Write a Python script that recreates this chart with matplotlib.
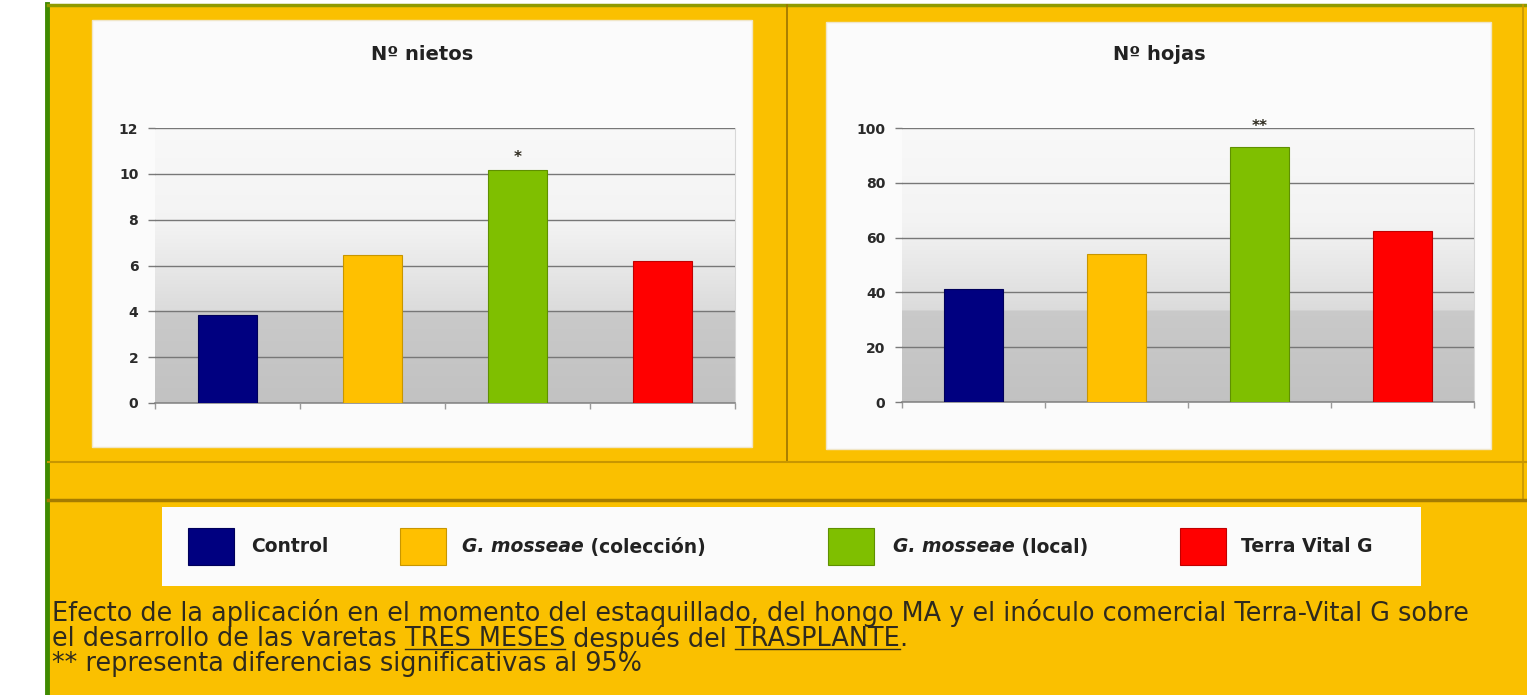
import numpy as np
import matplotlib.pyplot as plt
import matplotlib.patches as patches
from matplotlib.lines import Line2D

# data
groups = ['Control', 'G. mosseae (colección)', 'G. mosseae (local)', 'Terra Vital G']
colors = ['#000080', '#FFC000', '#7FBF00', '#FF0000']
edges = ['#00005a', '#c89600', '#5f9000', '#c00000']
nietos = [3.85, 6.45, 10.15, 6.2]
hojas = [41.2, 54.0, 93.2, 62.3]
nietos_ticks = [0, 2, 4, 6, 8, 10, 12]
hojas_ticks = [0, 20, 40, 60, 80, 100]
nietos_mark = ['', '', '*', '']
hojas_mark = ['', '', '**', '']

caption1 = ('Efecto de la aplicación en el momento del estaquillado, del hongo MA y el '
            'inóculo comercial Terra-Vital G sobre')
caption2 = ['el desarrollo de las varetas ', 'TRES MESES', ' después del ', 'TRASPLANTE', '.']
caption3 = '** representa diferencias significativas al 95%'

W, H = 1527, 695
GOLD = '#FAC000'
DARK_GOLD = '#C89600'
TXT = '#2e2a1e'

fig = plt.figure(figsize=(W / 100, H / 100), dpi=100)
fig.patch.set_facecolor('white')


def fx(x):
    return x / W


def fy(y):
    return 1 - y / H


def frect(x0, y0, x1, y1, **kw):
    r = patches.Rectangle((fx(x0), fy(y1)), fx(x1) - fx(x0), fy(y0) - fy(y1),
                          transform=fig.transFigure, **kw)
    fig.patches.append(r)
    return r


def fline(x0, y0, x1, y1, **kw):
    fig.lines.append(Line2D([fx(x0), fx(x1)], [fy(y0), fy(y1)], transform=fig.transFigure, **kw))


# gold slide background and frame lines (drawn below the axes)
frect(47, 4, W, H, facecolor=GOLD, edgecolor='none', zorder=-5)
fline(46.5, 4, 46.5, H, color='#3f8a00', lw=3.5, zorder=-4)
fline(48, 5, W, 5, color='#8f9a00', lw=2.5, zorder=-4)
fline(787, 5, 787, 462, color='#9a7400', lw=1.2, zorder=-4)
fline(1523, 5, 1523, 500, color=DARK_GOLD, lw=1.2, zorder=-4)
fline(48, 462, W, 462, color=DARK_GOLD, lw=1.5, zorder=-4)
fline(48, 500, W, 500, color='#a67c00', lw=2.5, zorder=-4)

# white chart boxes
frect(92, 20, 752, 447, facecolor='#fbfbfb', edgecolor='#f0e6c8', lw=1, zorder=-3)
frect(826, 22, 1491, 449, facecolor='#fbfbfb', edgecolor='#f0e6c8', lw=1, zorder=-3)

# background gradient of the plot area
t_anchor = [0.0, 0.333, 0.334, 0.5, 0.66, 1.0]
g_anchor = [0.76, 0.79, 0.86, 0.91, 0.955, 0.975]
tt = np.linspace(0, 1, 400)
gg = np.interp(tt, t_anchor, g_anchor)
grad = np.repeat(gg[:, None, None], 3, axis=2)


def draw_chart(rect, values, ticks, marks, title, title_xy, mark_off):
    ax = fig.add_axes([fx(rect[0]), fy(rect[3]), fx(rect[2]) - fx(rect[0]), fy(rect[1]) - fy(rect[3])])
    ax.set_facecolor('none')
    ymax = ticks[-1]
    ax.imshow(grad, extent=[-0.5, 3.5, 0, ymax], origin='lower', aspect='auto', zorder=0)
    x = np.arange(len(values))
    ax.bar(x, values, width=0.41, color=colors, edgecolor=edges, linewidth=0.8, zorder=3)
    for xi, v, m in zip(x, values, marks):
        if m:
            ax.text(xi, v + mark_off, m, ha='center', va='bottom', fontsize=11,
                    fontweight='bold', color=TXT, zorder=4, clip_on=False)
    ax.set_xlim(-0.5, 3.5)
    ax.set_ylim(0, ymax)
    ax.set_yticks(ticks)
    ax.set_yticklabels([str(t) for t in ticks], fontsize=10, fontweight='bold',
                       color='#2a2a2a', family='DejaVu Sans')
    ax.yaxis.grid(True, color='#777777', lw=1.0, zorder=1)
    ax.set_axisbelow(False)
    ax.tick_params(axis='y', length=5, width=1, color='#7a7a7a', pad=7)
    ax.set_xticks([])
    ax.set_xticks(np.arange(-0.5, 4, 1), minor=True)
    ax.tick_params(axis='x', which='minor', length=4, width=1, color='#9a9a9a')
    for s in ['left', 'top']:
        ax.spines[s].set_visible(False)
    ax.spines['bottom'].set_color('#8a8a8a')
    ax.spines['bottom'].set_linewidth(1.2)
    ax.spines['right'].set_color('#d8d8d8')
    for gl in ax.get_ygridlines():
        gl.set_zorder(1)
    fig.text(fx(title_xy[0]), fy(title_xy[1]), title, ha='center', va='center',
             fontsize=14, fontweight='bold', color='#222222', family='DejaVu Sans')
    return ax


draw_chart((155, 128, 735, 403), nietos, nietos_ticks, nietos_mark, 'Nº nietos', (422, 54), 0.25)
draw_chart((902, 128, 1474, 402), hojas, hojas_ticks, hojas_mark, 'Nº hojas', (1159, 54), 4.5)

# legend box
frect(162, 507, 1421, 586, facecolor='#fbfbfb', edgecolor='none', zorder=-3)
swatch_x = [188, 400, 828, 1180]
label_x = [251, 462, 893, 1241]
fig.canvas.draw()
renderer = fig.canvas.get_renderer()
for c, e, sx, lx, name in zip(colors, edges, swatch_x, label_x, groups):
    frect(sx, 528, sx + 46, 565, facecolor=c, edgecolor=e, lw=0.8, zorder=-2)
    if name.startswith('G. mosseae'):
        parts = [('G. mosseae', 'italic'), (name[len('G. mosseae'):], 'normal')]
    else:
        parts = [(name, 'normal')]
    xpos = lx
    for txt, style in parts:
        t = fig.text(fx(xpos), fy(547), txt, ha='left', va='center', fontsize=13.5,
                     fontweight='bold', style=style, color='#222222', family='DejaVu Sans')
        xpos += t.get_window_extent(renderer).width

# caption, sized from the width of its first line
probe = fig.text(0, 0, caption1, fontsize=10, family='DejaVu Sans')
cap_size = 10 * 1420 / probe.get_window_extent(renderer).width
probe.remove()

fig.text(fx(52), fy(613), caption1, ha='left', va='center', fontsize=cap_size,
         color=TXT, family='DejaVu Sans')
xpos = 52
for i, txt in enumerate(caption2):
    t = fig.text(fx(xpos), fy(639), txt, ha='left', va='center', fontsize=cap_size,
                 color=TXT, family='DejaVu Sans')
    w = t.get_window_extent(renderer).width
    if i in (1, 3):
        fline(xpos, 649, xpos + w, 649, color=TXT, lw=1)
    xpos += w
fig.text(fx(52), fy(664), caption3, ha='left', va='center', fontsize=cap_size,
         color=TXT, family='DejaVu Sans')

fig.savefig('out.png', dpi=100, facecolor=fig.get_facecolor())
